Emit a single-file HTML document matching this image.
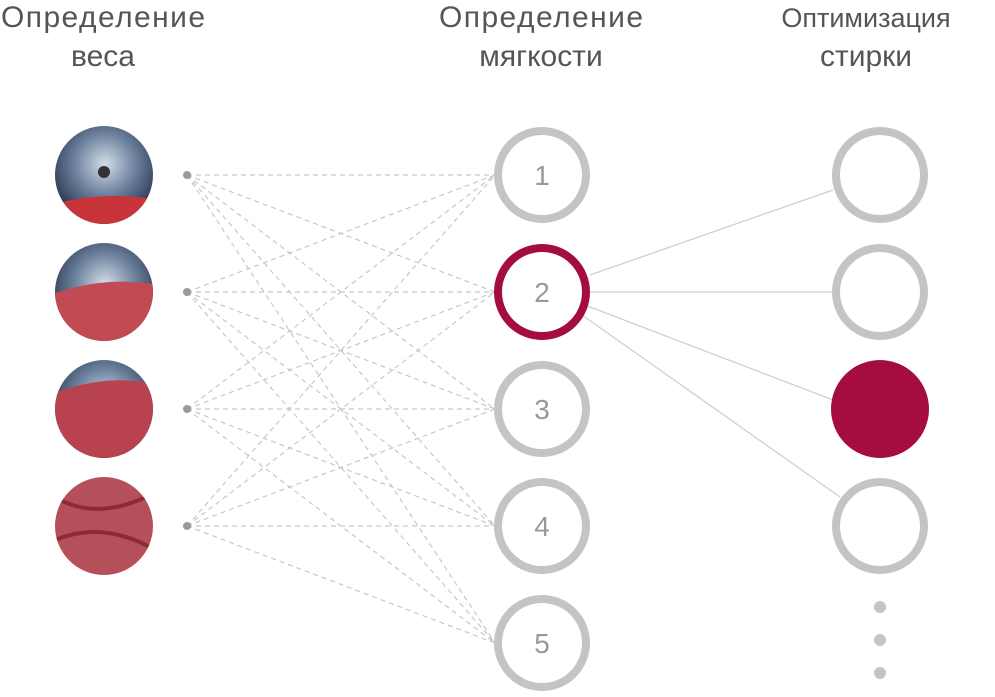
<!DOCTYPE html>
<html><head><meta charset="utf-8"><style>
body{margin:0;background:#fff;width:995px;height:692px;overflow:hidden}
</style></head><body>
<svg width="995" height="692" viewBox="0 0 995 692" xmlns="http://www.w3.org/2000/svg">
<defs>
<radialGradient id="drum" cx="50%" cy="40%" r="60%">
<stop offset="0" stop-color="#d5dde8"/><stop offset="0.45" stop-color="#6f84a0"/><stop offset="1" stop-color="#16223a"/>
</radialGradient>
<clipPath id="c1"><circle cx="104" cy="175" r="49"/></clipPath>
<clipPath id="c2"><circle cx="104" cy="292" r="49"/></clipPath>
<clipPath id="c3"><circle cx="104" cy="409" r="49"/></clipPath>
<clipPath id="c4"><circle cx="104" cy="526" r="49"/></clipPath>
</defs>
<g font-family="Liberation Sans, DejaVu Sans, sans-serif" font-size="30" fill="#555" text-anchor="middle">
<text x="103" y="27" textLength="204">Определение</text><text x="103" y="66">веса</text>
<text x="541" y="27" textLength="204">Определение</text><text x="541" y="66">мягкости</text>
<text x="866" y="27" font-size="27">Оптимизация</text><text x="866" y="66">стирки</text>
</g>
<g stroke="#c8c8c8" stroke-width="1.2" stroke-dasharray="5,4">
<line x1="187" y1="175" x2="495" y2="175"/><line x1="187" y1="175" x2="495" y2="292"/><line x1="187" y1="175" x2="495" y2="409"/><line x1="187" y1="175" x2="495" y2="526"/><line x1="187" y1="175" x2="495" y2="643"/>
<line x1="187" y1="292" x2="495" y2="175"/><line x1="187" y1="292" x2="495" y2="292"/><line x1="187" y1="292" x2="495" y2="409"/><line x1="187" y1="292" x2="495" y2="526"/><line x1="187" y1="292" x2="495" y2="643"/>
<line x1="187" y1="409" x2="495" y2="175"/><line x1="187" y1="409" x2="495" y2="292"/><line x1="187" y1="409" x2="495" y2="409"/><line x1="187" y1="409" x2="495" y2="526"/><line x1="187" y1="409" x2="495" y2="643"/>
<line x1="187" y1="526" x2="495" y2="175"/><line x1="187" y1="526" x2="495" y2="292"/><line x1="187" y1="526" x2="495" y2="409"/><line x1="187" y1="526" x2="495" y2="526"/><line x1="187" y1="526" x2="495" y2="643"/>
</g>
<g fill="#999"><circle cx="187" cy="175" r="4"/><circle cx="187" cy="292" r="4"/><circle cx="187" cy="409" r="4"/><circle cx="187" cy="526" r="4"/></g>
<g stroke="#d0d0d0" stroke-width="1.3">
<line x1="590" y1="275" x2="833" y2="190"/><line x1="590" y1="292" x2="833" y2="292"/><line x1="585" y1="305" x2="833" y2="400"/><line x1="582" y1="315" x2="840" y2="497"/>
</g>
<g clip-path="url(#c1)"><rect x="50" y="120" width="110" height="110" fill="url(#drum)"/><circle cx="104" cy="172" r="6" fill="#333"/><path d="M50 205 Q104 190 160 200 L160 230 L50 230Z" fill="#c8343a"/></g>
<g clip-path="url(#c2)"><rect x="50" y="240" width="110" height="110" fill="url(#drum)"/><path d="M50 295 Q104 275 160 285 L160 350 L50 350Z" fill="#c24a55"/></g>
<g clip-path="url(#c3)"><rect x="50" y="355" width="110" height="110" fill="url(#drum)"/><path d="M50 395 Q104 372 160 385 L160 465 L50 465Z" fill="#b8424d"/></g>
<g clip-path="url(#c4)"><rect x="50" y="470" width="110" height="110" fill="#b5505a"/><path d="M60 500 Q100 520 150 495 M55 540 Q104 520 155 550" stroke="#8a2c36" stroke-width="4" fill="none"/></g>
<g fill="none" stroke="#c4c4c4" stroke-width="8">
<circle cx="542" cy="175" r="44"/><circle cx="542" cy="409" r="44"/><circle cx="542" cy="526" r="44"/><circle cx="542" cy="643" r="44"/>
<circle cx="880" cy="175" r="44"/><circle cx="880" cy="292" r="44"/><circle cx="880" cy="526" r="44"/>
</g>
<circle cx="542" cy="292" r="44" fill="#fff" stroke="#a50d3e" stroke-width="8"/>
<circle cx="880" cy="409" r="49" fill="#a50d3e"/>
<g fill="#c4c4c4"><circle cx="880" cy="607" r="6"/><circle cx="880" cy="640" r="6"/><circle cx="880" cy="673" r="6"/></g>
<g font-family="Liberation Sans, DejaVu Sans, sans-serif" font-size="28" fill="#999" text-anchor="middle">
<text x="542" y="185">1</text><text x="542" y="302">2</text><text x="542" y="419">3</text><text x="542" y="536">4</text><text x="542" y="653">5</text>
</g>
</svg>
</body></html>
